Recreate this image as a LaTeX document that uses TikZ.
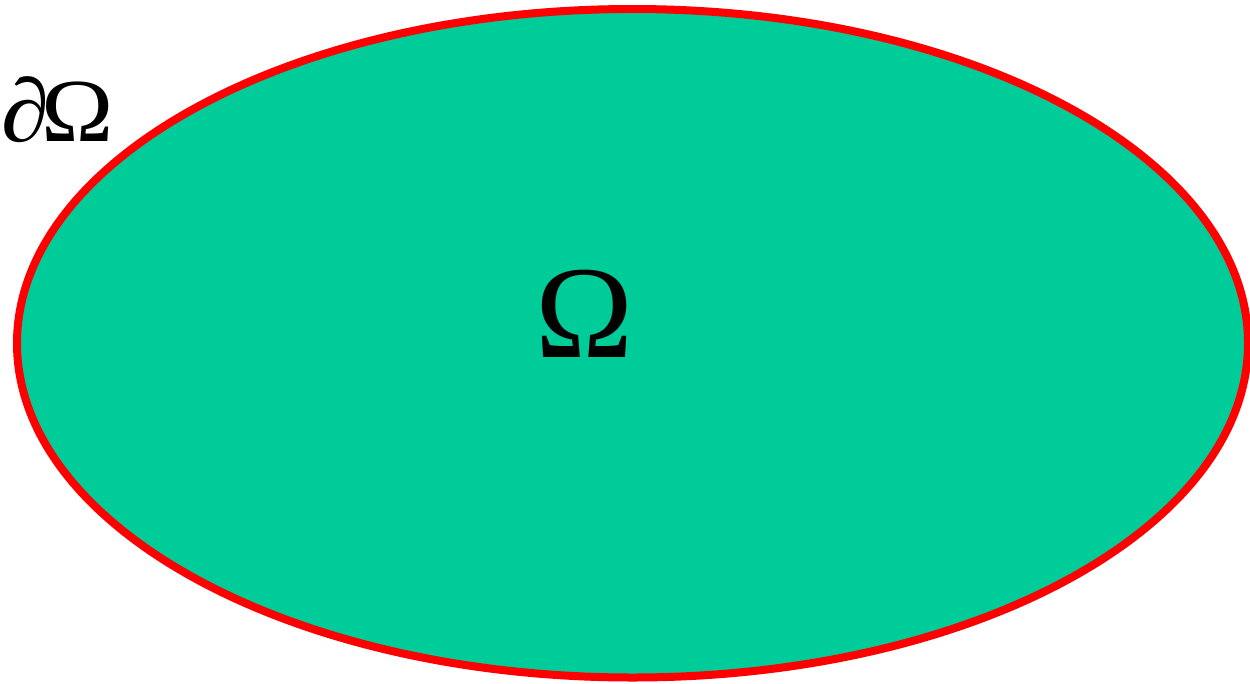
\documentclass[tikz,border=0pt]{standalone}
\usepackage{fontspec}
\setmainfont{Liberation Serif}
\definecolor{regiongreen}{RGB}{0,204,153}
\begin{document}
\begin{tikzpicture}[x=1pt,y=-1pt,
  lbl/.style={inner sep=0pt, anchor=base}]
\useasboundingbox (0,0) rectangle (1250,683);
\draw[fill=regiongreen, draw=red, line width=8pt] (632.5,343.25) ellipse [x radius=615.5, y radius=334.25];
\node[lbl, font=\fontsize{132}{132}\selectfont] (omega) at (585,357) {Ω};
\node[lbl, font=\fontsize{90}{90}\selectfont, anchor=base west] (bd) at (1,141) {\scalebox{1.08}[1]{\itshape ∂\kern-0.08em\upshape Ω}};
\end{tikzpicture}
\end{document}
